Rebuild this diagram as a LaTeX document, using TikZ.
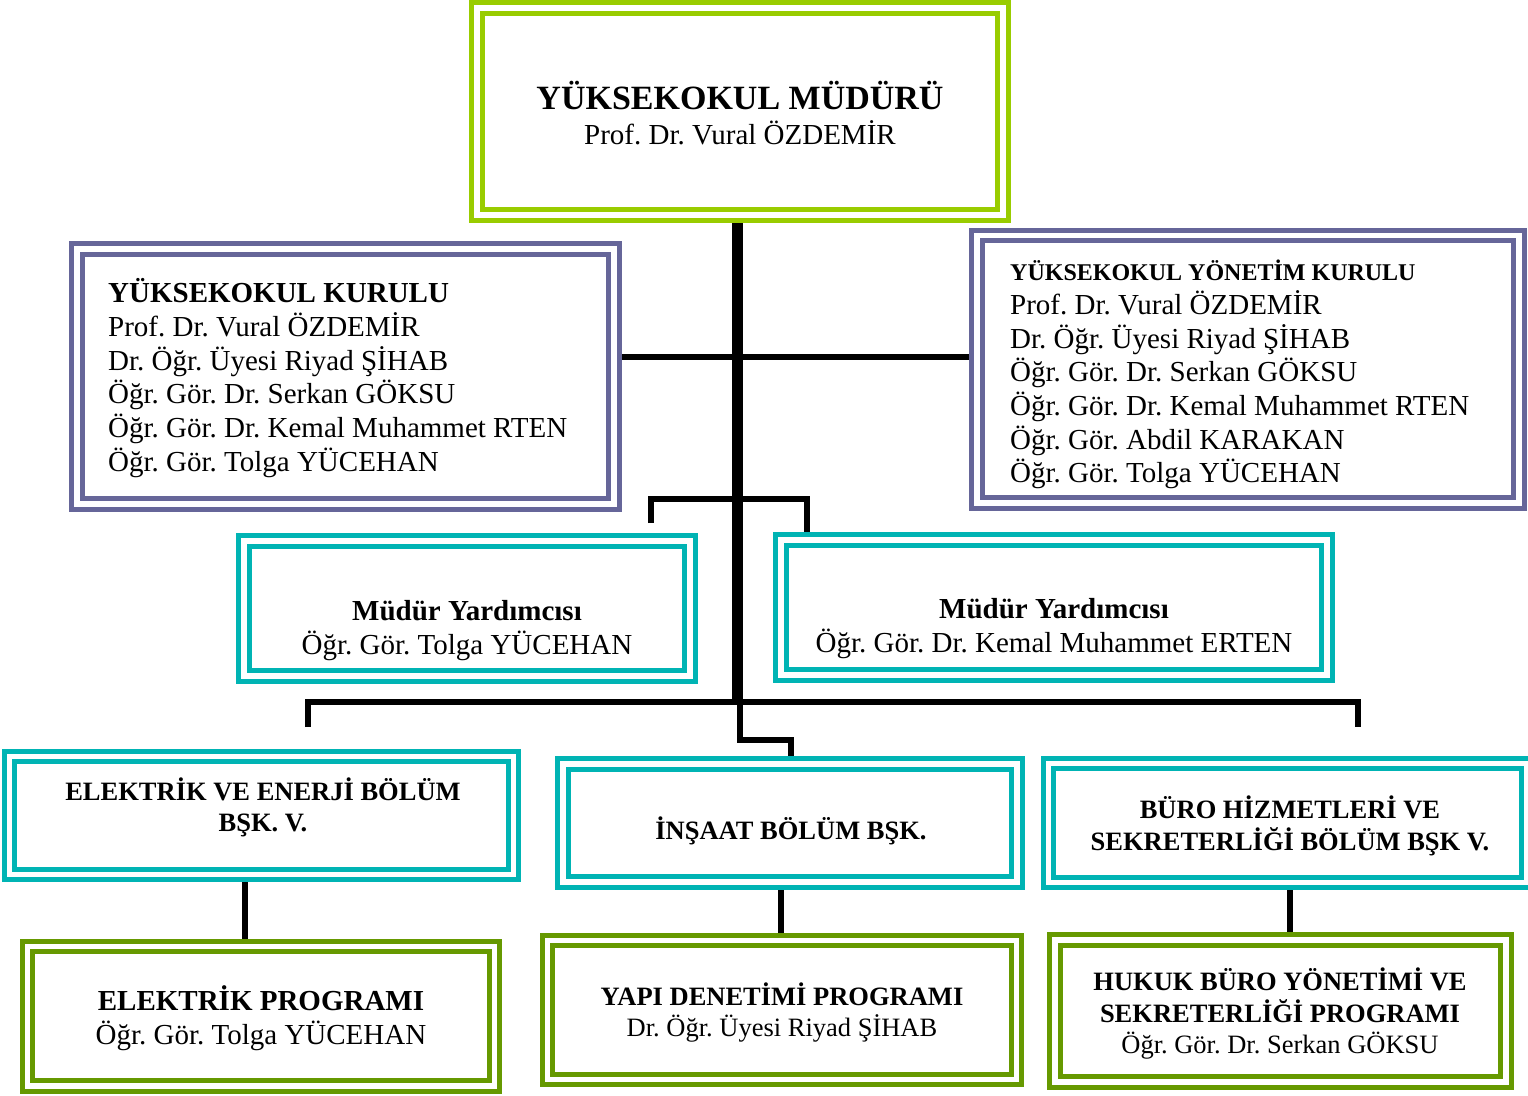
\documentclass[tikz,border=0pt]{standalone}
\usepackage{fontspec}
\setmainfont{Liberation Serif}
\frenchspacing
\definecolor{cLime}{RGB}{153,204,0}
\definecolor{cPurple}{RGB}{102,102,153}
\definecolor{cTeal}{RGB}{0,180,180}
\definecolor{cOlive}{RGB}{102,153,0}
\pgfdeclarelayer{background}
\pgfsetlayers{background,main}
\tikzset{
  dbox/.style={draw=#1, line width=5pt, double=white, double distance=5.5pt, rectangle, inner sep=0pt},
  conn/.style={line width=5.5pt, black},
  trunkline/.style={line width=11pt, black},
  txt/.style={inner sep=0pt, anchor=base},
}
\begin{document}
\begin{tikzpicture}[x=1pt,y=-1pt]
\useasboundingbox (0,0) rectangle (1528,1095);
% --- connector coordinates
\coordinate (jn) at (737,704);
\coordinate (hy) at (0,357);
\coordinate (b1) at (651,523);
\coordinate (b2) at (807,499);
\coordinate (lb) at (0,702);
\coordinate (l1) at (308,727);
\coordinate (l2) at (1358,727);
\coordinate (s1) at (740,702);
\coordinate (s2) at (791,740);
\coordinate (v1) at (245,0);
\coordinate (v2) at (781,0);
\coordinate (v3) at (1290,0);
% --- boxes
\path
  node[dbox=cLime,   minimum width=526pt, minimum height=207pt]   (top)     at (740,111.5) {}
  node[dbox=cPurple, minimum width=537pt, minimum height=255pt]   (kurulu)  at (345.5,376.5) {}
  node[dbox=cPurple, minimum width=542pt, minimum height=267.5pt] (yonetim) at (1248,369.25) {}
  node[dbox=cTeal,   minimum width=446pt, minimum height=135pt]   (myl)     at (467,608.5) {}
  node[dbox=cTeal,   minimum width=546pt, minimum height=135pt]   (myr)     at (1054,607.5) {}
  node[dbox=cTeal,   minimum width=504pt, minimum height=118pt]   (eleb)    at (261.5,815.5) {}
  node[dbox=cTeal,   minimum width=454pt, minimum height=118pt]   (insb)    at (790,823) {}
  node[dbox=cTeal,   minimum width=478.5pt, minimum height=119pt] (burob)   at (1287.75,823) {}
  node[dbox=cOlive,  minimum width=467pt, minimum height=139.5pt] (elp)     at (261,1016.25) {}
  node[dbox=cOlive,  minimum width=469pt, minimum height=139pt]   (yapp)    at (782,1010) {}
  node[dbox=cOlive,  minimum width=451pt, minimum height=142pt]   (hukp)    at (1280.5,1011) {};
% --- connectors (behind the boxes)
\begin{pgfonlayer}{background}
\draw[trunkline] (jn |- top.south) -- (jn);
\draw[conn] (kurulu.east |- hy) -- (yonetim.west |- hy);
\draw[conn] (b1) |- (b2) -- (b2 |- myr.north);
\draw[conn] (l1) -- (l1 |- lb) -- (l2 |- lb) -- (l2);
\draw[conn] (s1) |- (s2) -- (s2 |- insb.north);
\draw[conn] (v1 |- eleb.south) -- (v1 |- elp.north);
\draw[conn] (v2 |- insb.south) -- (v2 |- yapp.north);
\draw[conn] (v3 |- burob.south) -- (v3 |- hukp.north);
\end{pgfonlayer}
% --- texts
\node[txt, font=\fontsize{29}{35}\selectfont] (ttop) at (740,109)
  {\begin{tabular}[t]{@{}c@{}}\fontsize{34}{35}\selectfont\bfseries YÜKSEKOKUL MÜDÜRÜ\\ Prof. Dr. Vural ÖZDEMİR\end{tabular}};
\node[txt, anchor=base west, font=\fontsize{29}{33.8}\selectfont] (tkur) at (108,302)
  {\begin{tabular}[t]{@{}l@{}}\bfseries YÜKSEKOKUL KURULU\\ Prof. Dr. Vural ÖZDEMİR\\ Dr. Öğr. Üyesi Riyad ŞİHAB\\ Öğr. Gör. Dr. Serkan GÖKSU\\ Öğr. Gör. Dr. Kemal Muhammet RTEN\\ Öğr. Gör. Tolga YÜCEHAN\end{tabular}};
\node[txt, anchor=base west, font=\fontsize{29}{33.7}\selectfont] (tyon) at (1010,280)
  {\begin{tabular}[t]{@{}l@{}}\fontsize{24}{33.7}\selectfont\bfseries YÜKSEKOKUL YÖNETİM KURULU\\ Prof. Dr. Vural ÖZDEMİR\\ Dr. Öğr. Üyesi Riyad ŞİHAB\\ Öğr. Gör. Dr. Serkan GÖKSU\\ Öğr. Gör. Dr. Kemal Muhammet RTEN\\ Öğr. Gör. Abdil KARAKAN\\ Öğr. Gör. Tolga YÜCEHAN\end{tabular}};
\node[txt, font=\fontsize{29}{34}\selectfont] (tmyl) at (467,620)
  {\begin{tabular}[t]{@{}c@{}}\bfseries Müdür Yardımcısı\\ Öğr. Gör. Tolga YÜCEHAN\end{tabular}};
\node[txt, font=\fontsize{29}{34}\selectfont] (tmyr) at (1054,618)
  {\begin{tabular}[t]{@{}c@{}}\bfseries Müdür Yardımcısı\\ Öğr. Gör. Dr. Kemal Muhammet ERTEN\end{tabular}};
\node[txt, font=\fontsize{26.5}{31}\selectfont\bfseries] (teleb) at (263,800)
  {\begin{tabular}[t]{@{}c@{}}\bfseries ELEKTRİK VE ENERJİ BÖLÜM\\ \bfseries BŞK. V.\end{tabular}};
\node[txt, font=\fontsize{26.5}{31}\selectfont\bfseries] (tinsb) at (791,839) {İNŞAAT BÖLÜM BŞK.};
\node[txt, font=\fontsize{26.5}{30}\selectfont\bfseries] (tburob) at (1290,818)
  {\begin{tabular}[t]{@{}c@{}}\bfseries BÜRO HİZMETLERİ VE\\ \bfseries SEKRETERLİĞİ BÖLÜM BŞK V.\end{tabular}};
\node[txt, font=\fontsize{29}{34}\selectfont] (telp) at (261,1010)
  {\begin{tabular}[t]{@{}c@{}}\bfseries ELEKTRİK PROGRAMI\\ Öğr. Gör. Tolga YÜCEHAN\end{tabular}};
\node[txt, font=\fontsize{26.5}{31}\selectfont] (tyapp) at (782,1005)
  {\begin{tabular}[t]{@{}c@{}}\bfseries YAPI DENETİMİ PROGRAMI\\ Dr. Öğr. Üyesi Riyad ŞİHAB\end{tabular}};
\node[txt, font=\fontsize{26.5}{31}\selectfont] (thukp) at (1280,990)
  {\begin{tabular}[t]{@{}c@{}}\bfseries HUKUK BÜRO YÖNETİMİ VE\\ \bfseries SEKRETERLİĞİ PROGRAMI\\ Öğr. Gör. Dr. Serkan GÖKSU\end{tabular}};
\end{tikzpicture}
\end{document}
